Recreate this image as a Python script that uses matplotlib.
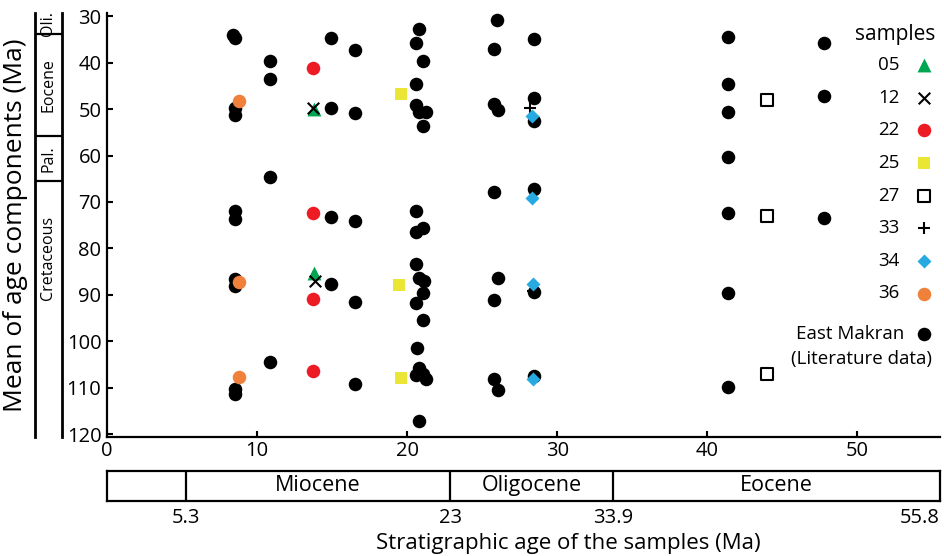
import matplotlib
matplotlib.use('Agg')
import matplotlib.pyplot as plt

plt.rcParams['font.family'] = ['Open Sans', 'DejaVu Sans']

# East Makran literature data (stratigraphic age, mean of age component)
lit_x = [8.4, 8.5, 8.5, 8.5, 8.5, 8.5, 8.5, 8.5, 8.55, 8.5,
         10.86, 10.86, 10.86, 10.86,
         14.92, 14.92, 14.92, 14.92,
         16.52, 16.52, 16.52, 16.52, 16.52,
         20.81, 20.57, 21.07, 20.57, 20.57, 20.81, 21.25, 21.07, 20.57, 21.07, 20.57, 20.57,
         20.81, 21.12, 21.07, 20.57, 21.07, 20.63, 20.81, 20.57, 21.07, 21.25, 20.81,
         26.0, 25.78, 25.78, 26.07, 25.78, 26.03, 25.78, 25.78, 26.03,
         28.47, 28.47, 28.47, 28.47, 28.47, 28.47,
         41.35, 41.35, 41.35, 41.35, 41.35, 41.35, 41.35,
         47.79, 47.79, 47.79]
lit_y = [34.1, 34.8, 49.8, 51.3, 71.9, 73.7, 86.6, 88.1, 110.3, 111.4,
         39.7, 43.5, 64.6, 104.5,
         34.8, 49.8, 73.2, 87.7,
         37.3, 50.8, 74.1, 91.5, 109.2,
         32.8, 35.7, 39.7, 44.6, 49.1, 50.7, 50.6, 53.7, 71.9, 75.5, 76.5, 83.3,
         86.3, 87.0, 89.5, 91.7, 95.5, 101.5, 105.7, 107.2, 107.1, 108.1, 117.1,
         30.8, 37.1, 49.0, 50.2, 67.9, 86.4, 91.1, 108.1, 110.4,
         34.9, 47.6, 52.6, 67.3, 89.4, 107.4,
         34.6, 44.7, 50.7, 60.3, 72.4, 89.5, 109.9,
         35.9, 47.1, 73.4]

# samples of this study
s05_x, s05_y = [13.8, 13.8], [49.9, 85.2]
s12_x, s12_y = [13.75, 13.85], [49.7, 87.0]
s22_x, s22_y = [13.7, 13.7, 13.7, 13.7], [41.1, 72.3, 90.9, 106.4]
s25_x, s25_y = [19.6, 19.45, 19.6], [46.8, 87.9, 107.8]
s27_x, s27_y = [44.0, 44.0, 44.0], [48.1, 73.0, 107.1]
s33_x, s33_y = [28.18, 28.36], [49.8, 89.1]
s34_x, s34_y = [28.29, 28.29, 28.36, 28.36], [51.5, 69.1, 87.6, 108.1]
s36_x, s36_y = [8.81, 8.81, 8.81], [48.2, 87.3, 107.6]

# epochs along the stratigraphic axis
strat_bounds = [0, 5.3, 23, 33.9, 55.8]
strat_names = ['', 'Miocene', 'Oligocene', 'Eocene']

# epochs along the component age axis
comp_bounds = [33.9, 55.8, 65.5]
comp_names = ['Oli.', 'Eocene', 'Pal.', 'Cretaceous']
comp_label_y = [31.65, 44.85, 60.65, 82]

fig = plt.figure(figsize=(9.44, 5.56), dpi=100)
ax = fig.add_axes([0.1133, 0.2146, 0.8824, 0.7615])

lit = ax.scatter(lit_x, lit_y, s=95, c='black', linewidths=0, zorder=2)
h05 = ax.scatter(s05_x, s05_y, s=100, marker='^', c='#00a651', linewidths=0, zorder=3)
h12 = ax.scatter(s12_x, s12_y, s=69, marker='x', c='black', linewidths=1.5, zorder=3)
h22 = ax.scatter(s22_x, s22_y, s=95, c='#ed1c24', linewidths=0, zorder=3)
h25 = ax.scatter(s25_x, s25_y, s=74, marker='s', c='#ebe536', linewidths=0, zorder=3)
h27 = ax.scatter(s27_x, s27_y, s=70, marker='s', facecolors='white', edgecolors='black', linewidths=1.5, zorder=3)
h33 = ax.scatter(s33_x, s33_y, s=85, marker='+', c='black', linewidths=1.5, zorder=3)
h34 = ax.scatter(s34_x, s34_y, s=51, marker='D', c='#27aae1', linewidths=0, zorder=3)
h36 = ax.scatter(s36_x, s36_y, s=95, c='#f0813a', linewidths=0, zorder=3)

ax.set_xlim(0, 55.5)
ax.set_ylim(120.5, 29.4)
ax.set_xticks(range(0, 51, 10))
ax.set_yticks(range(30, 121, 10))
for side in ['top', 'right']:
    ax.spines[side].set_visible(False)
for side in ['left', 'bottom']:
    ax.spines[side].set_linewidth(1.6)
ax.tick_params(direction='in', length=4.5, width=1.5, labelsize=14.5)
ax.tick_params(axis='x', pad=3)
ax.tick_params(axis='y', pad=4)

# legend: title as plain text so the row spacing can be set on its own
ax.text(0.995, 0.951, 'samples', transform=ax.transAxes, ha='right', va='center', fontsize=15)
leg = ax.legend([h05, h12, h22, h25, h27, h33, h34, h36],
                ['05', '12', '22', '25', '27', '33', '34', '36'],
                loc='upper right', bbox_to_anchor=(0.9916, 0.899),
                markerfirst=False, frameon=False, fontsize=13.5,
                handlelength=1.0, handletextpad=0.8, labelspacing=0.78,
                borderpad=0, borderaxespad=0)
ax.add_artist(leg)
ax.legend([lit], ['East Makran'], loc='upper right', bbox_to_anchor=(0.992, 0.263),
          markerfirst=False, frameon=False, fontsize=13.5, handlelength=1.0,
          handletextpad=0.56, borderpad=0, borderaxespad=0)
ax.text(0.990, 0.184, '(Literature data)', transform=ax.transAxes,
        ha='right', va='center', fontsize=13.5)

# epoch bar below the x axis
bar = fig.add_axes([0.1133, 0.0989, 0.8824, 0.0545])
bar.set_xlim(strat_bounds[0], strat_bounds[-1])
bar.set_ylim(0, 1)
bar.set_xticks([])
bar.set_yticks([])
for sp in bar.spines.values():
    sp.set_linewidth(1.6)
for b in strat_bounds[1:-1]:
    bar.axvline(b, color='black', lw=1.6)
for i, name in enumerate(strat_names):
    mid = (strat_bounds[i] + strat_bounds[i + 1]) / 2
    bar.text(mid, 0.5, name, ha='center', va='center', fontsize=15.5)
for b in strat_bounds[1:]:
    bar.text(b, -0.22, f'{b:g}', ha='right' if b == strat_bounds[-1] else 'center',
             va='top', fontsize=14.5)

# epoch column left of the y axis
col = fig.add_axes([0.0371, 0.2146, 0.0283, 0.7615])
col.set_ylim(120.5, 29.4)
col.set_xlim(0, 1)
col.set_xticks([])
col.set_yticks([])
col.spines['top'].set_visible(False)
col.spines['bottom'].set_visible(False)
col.spines['left'].set_linewidth(2)
col.spines['right'].set_linewidth(2)
for b in comp_bounds:
    col.axhline(b, color='black', lw=1.6)
for name, yy in zip(comp_names, comp_label_y):
    col.text(0.5, yy, name, rotation=90, ha='center', va='center', fontsize=11.5)

fig.text(16 / 944, 1 - 225 / 556, 'Mean of age components (Ma)', rotation=90,
         ha='center', va='center', fontsize=19)
fig.text(568 / 944, 1 - 543 / 556, 'Stratigraphic age of the samples (Ma)',
         ha='center', va='center', fontsize=16)

fig.savefig('out.png', dpi=100)
